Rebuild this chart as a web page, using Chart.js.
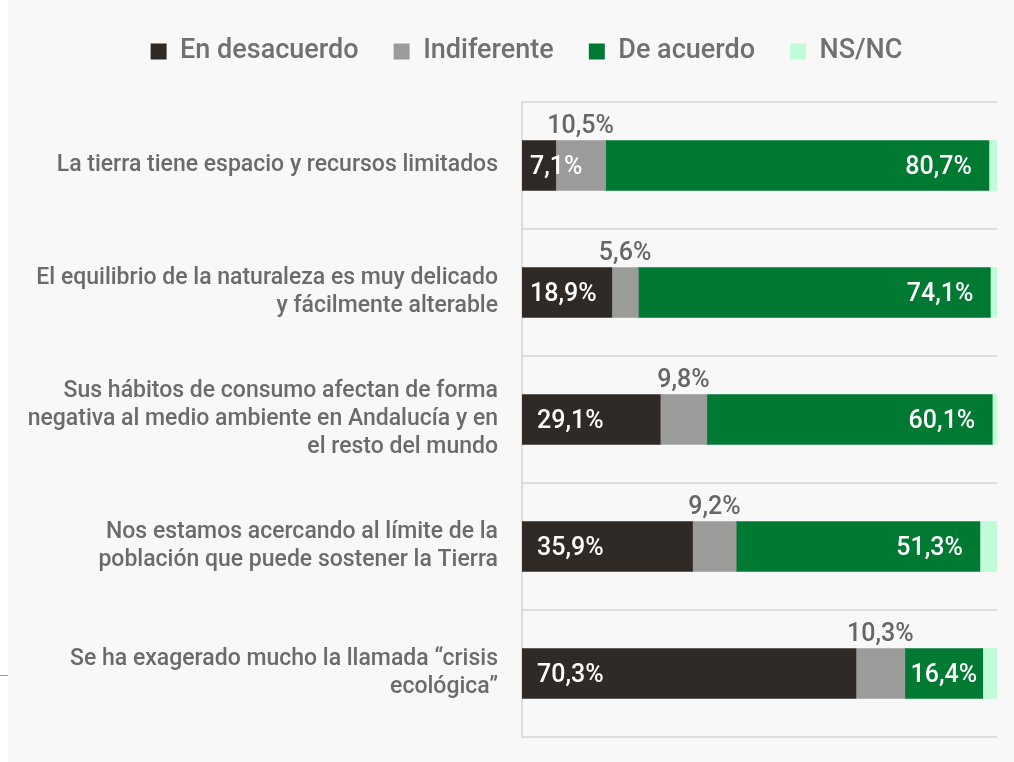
<!DOCTYPE html>
<html>
<head>
<meta charset="utf-8">
<script src="https://cdn.jsdelivr.net/npm/chart.js@4/dist/chart.umd.min.js"></script>
<style>
  html, body { margin: 0; padding: 0; background: #fff; }
  #wrap { position: absolute; left: 8px; top: 0; width: 1006px; height: 762px; background: #f8f8f8; }
  #wrap canvas { display: block; }
  #tick { position: absolute; left: 0; top: 675px; width: 8px; height: 1px; background: #9a9a9a; }
</style>
</head>
<body>
<div id="tick"></div>
<div id="wrap"><canvas id="chart" width="1006" height="762"></canvas></div>
<script>
// opiniones sobre medio ambiente
const categories = [
    "La tierra tiene espacio y recursos limitados",
    ["El equilibrio de la naturaleza es muy delicado", "y fácilmente alterable"],
    ["Sus hábitos de consumo afectan de forma", "negativa al medio ambiente en Andalucía y en", "el resto del mundo"],
    ["Nos estamos acercando al límite de la", "población que puede sostener la Tierra"],
    ["Se ha exagerado mucho la llamada “crisis", "ecológica”"]
];
const desacuerdo = [7.1, 18.9, 29.1, 35.9, 70.3];
const indiferente = [10.5, 5.6, 9.8, 9.2, 10.3];
const deAcuerdo = [80.7, 74.1, 60.1, 51.3, 16.4];
const nsnc = [1.7, 1.4, 1.0, 3.6, 3.0];

const FONT = "Roboto";

const fmt = v => v.toFixed(1).replace(".", ",") + "%";

// etiquetas de valor dibujadas a mano (sin plugin datalabels)
const valueLabels = {
    id: "valueLabels",
    afterDatasetsDraw(chart) {
        const ctx = chart.ctx;
        ctx.save();
        ctx.font = "500 25px " + FONT;
        ctx.textBaseline = "middle";
        chart.data.datasets.forEach((ds, i) => {
            if (i === 3) return;
            const meta = chart.getDatasetMeta(i);
            meta.data.forEach((bar, j) => {
                const txt = fmt(ds.data[j]);
                const tw = ctx.measureText(txt).width;
                const left = Math.min(bar.base, bar.x);
                const right = Math.max(bar.base, bar.x);
                const w = right - left;
                if (i === 0) {
                    ctx.fillStyle = "#ffffff";
                    ctx.textAlign = "left";
                    ctx.fillText(txt, left + (tw + 30 <= w ? 15 : 8), bar.y + 2);
                } else if (i === 1) {
                    ctx.fillStyle = "#666666";
                    ctx.textAlign = "center";
                    ctx.textBaseline = "bottom";
                    ctx.fillText(txt, (left + right) / 2, bar.y - bar.height / 2 - 1);
                    ctx.textBaseline = "middle";
                } else {
                    ctx.fillStyle = "#ffffff";
                    if (tw + 34 <= w) {
                        ctx.textAlign = "right";
                        ctx.fillText(txt, right - 17, bar.y + 2);
                    } else {
                        ctx.textAlign = "center";
                        ctx.fillText(txt, (left + right) / 2, bar.y + 2);
                    }
                }
            });
        });
        ctx.restore();
    }
};

// leyenda: alto fijo y un poco desplazada a la derecha, como en el original
const legendTweak = {
    id: "legendTweak",
    beforeInit(chart) {
        const legend = chart.legend;
        const fit = legend.fit;
        const draw = legend.draw;
        legend.fit = function () {
            fit.call(legend);
            this.height = 102;
        };
        legend.draw = function () {
            const ctx = chart.ctx;
            ctx.save();
            ctx.translate(24, 3);
            draw.call(legend);
            ctx.restore();
        };
    }
};

new Chart(document.querySelector("#chart"), {
    type: "bar",
    data: {
        labels: categories,
        datasets: [
            { label: "En desacuerdo", data: desacuerdo, backgroundColor: "#2f2a26" },
            { label: "Indiferente", data: indiferente, backgroundColor: "#9b9b99" },
            { label: "De acuerdo", data: deAcuerdo, backgroundColor: "#007a32" },
            { label: "NS/NC", data: nsnc, backgroundColor: "#c0fcd8" }
        ]
    },
    options: {
        indexAxis: "y",
        responsive: false,
        animation: false,
        layout: { padding: { left: 0, right: 17, top: 0, bottom: 25 } },
        datasets: { bar: { barThickness: 50 } },
        scales: {
            x: {
                stacked: true,
                min: 0,
                max: 100,
                display: false
            },
            y: {
                stacked: true,
                afterFit(scale) {
                    scale.width = 514;
                    scale.paddingTop = 0;
                    scale.paddingBottom = 0;
                },
                grid: { color: "#dddddd", lineWidth: 2, drawTicks: false, offset: true },
                border: { display: true, color: "#dddddd", width: 2 },
                ticks: {
                    padding: 24,
                    color: "#6b6b6b",
                    font: { family: FONT, size: 23, weight: "500", lineHeight: 1.22 }
                }
            }
        },
        plugins: {
            legend: {
                position: "top",
                labels: {
                    boxWidth: 16,
                    boxHeight: 16,
                    padding: 35,
                    color: "#707070",
                    font: { family: FONT, size: 27, weight: "500" }
                }
            },
            tooltip: { enabled: false }
        }
    },
    plugins: [legendTweak, valueLabels]
});
</script>
</body>
</html>
